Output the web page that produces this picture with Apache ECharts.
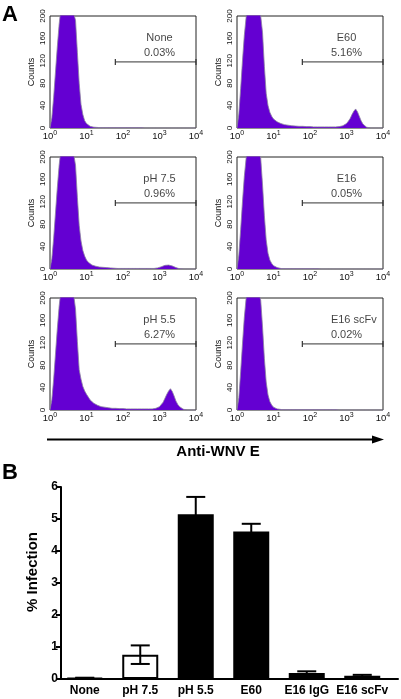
<!DOCTYPE html>
<html><head><meta charset="utf-8">
<script src="https://cdn.jsdelivr.net/npm/echarts@6/dist/echarts.min.js"></script>
<style>html,body{margin:0;padding:0;background:#fff}#c{width:401px;height:699px}</style>
</head><body><div id="c"></div>
<script>
// ---------- Panel A data: log10 fluorescence bins and counts ----------
const bins = [0,0.05,0.1,0.15,0.2,0.25,0.3,0.35,0.4,0.45,0.5,0.55,0.6,0.65,0.7,0.75,0.8,0.85,0.9,0.95,
  1,1.05,1.1,1.15,1.2,1.25,1.3,1.35,1.4,1.45,1.5,1.55,1.6,1.65,1.7,1.75,1.8,1.85,1.9,1.95,
  2,2.05,2.1,2.15,2.2,2.25,2.3,2.35,2.4,2.45,2.5,2.55,2.6,2.65,2.7,2.75,2.8,2.85,2.9,2.95,
  3,3.05,3.1,3.15,3.2,3.25,3.3,3.35,3.4,3.45,3.5,3.55,3.6,3.65,3.7,3.75,3.8,3.85,3.9,3.95,4];

const countsNone = [0,18,55,100,145,185,215,240,255,255,245,232,218,205,
  192,135,80,42,24,13,8,5,3,2,1.5,1,1,0.5,0.5,0.5,0.5,
  0.3,0.3,0.3,0.3,0.3,0.3,0.3,0.3,0.3,0.3,0.3,0.3,0.3,0.3,0.3,0.3,0.3,0.3,0.3,0.3,
  0,0,0,0,0,0,0,0,0,0,0,0,0,0,0,0,0,0,0,0,0,0,0,0,0,0,0,0,0,0];
const countsE60 = [0,25,70,120,165,198,230,250,258,252,240,225,210,200,
  170,110,62,40,28,21,16,13,11,9,8,7,6,5.5,5,4.5,4,
  4,3.5,3.5,3,3,3,3,2.5,2.5,2.5,2.5,
  2,2,2,2,2,2,2,2,2,2,2,2,2,2,
  2.5,3,4,6,8,12,17,24,30,34,29,21,13,7,3.5,1.5,0.5,
  0,0,0,0,0,0,0,0];
const countsPH75 = [0,18,55,100,145,185,215,240,255,255,245,232,218,205,
  185,128,78,50,33,23,16,12,9,7,6,5,4,3.5,3,3,2.5,
  2.5,2,2,2,1.5,1.5,
  1,1,1,1,1,1,1,1,1,1,1,1,1,1,1,1,1,1,1,1,1,
  1.5,2,3,4,5.5,6.5,7,7,6.5,5.5,4,2.5,1.5,0.5,
  0,0,0,0,0,0,0,0,0];
const countsE16 = [0,25,70,120,165,198,230,250,258,252,240,225,210,198,
  150,95,52,28,16,10,6,4,2.5,1.5,1,0.5,
  0.3,0.3,0.3,0.3,0.3,0.3,0.3,0.3,0.3,0.3,0.3,0.3,0.3,0.3,0.3,0.3,0.3,0.3,0.3,0.3,
  0,0,0,0,0,0,0,0,0,0,0,0,0,0,0,0,0,0,0,0,0,0,0,0,0,0,0,0,0,0,0,0,0,0,0];
const countsPH55 = [0,18,55,100,145,185,215,240,255,255,245,232,218,205,
  180,122,72,55,42,34,28,23,18,15,12,10,8.5,7,6,5.5,5,4.5,4,3.5,3,3,3,2.5,2.5,2.5,2.5,
  2,2,2,2,2,2,2,2,2,2,2,2,2,2,2,2,2,
  3,4,6,9,14,21,28,34,38,33,25,16,10,6,3,1.5,0.5,
  0,0,0,0,0,0];
const countsScFv = [0,22,68,118,165,200,232,252,258,250,238,224,210,196,
  148,92,50,27,15,9,5,3,2,1,1,0.5,
  0.3,0.3,0.3,0.3,0.3,0.3,0.3,0.3,0.3,0.3,0.3,0.3,0.3,0.3,0.3,0.3,0.3,0.3,0.3,0.3,
  0.3,0.3,0.3,0.3,0.3,0.3,0.3,0.3,0.3,0.3,
  0,0,0,0,0,0,0,0,0,0,0,0,0,0,0,0,0,0,0,0,0,0,0,0,0];

const panelNames = ['None','E60','pH 7.5','E16','pH 5.5','E16 scFv'];
const panelPercents = ['0.03%','5.16%','0.96%','0.05%','6.27%','0.02%'];
const panelCounts = [countsNone,countsE60,countsPH75,countsE16,countsPH55,countsScFv];
const decadeTicks = [0,1,2,3,4];
const countTicks = [0,40,80,120,160,200];
const gate = [[1.79,118],[4,118]];

// ---------- Panel B data ----------
const barCategories = ['None','pH 7.5','pH 5.5','E60','E16 IgG','E16 scFv'];
const barValues = [0.03,0.76,5.15,4.61,0.19,0.10];
const barErrors = [0.01,0.29,0.54,0.24,0.05,0.03];
const infectionTicks = [0,1,2,3,4,5,6];

const FONT = '"Liberation Sans", Arial, sans-serif';
const PURPLE = '#6400d2';

const grids = [], xAxes = [], yAxes = [], series = [];
const colLeft = [50, 237], rowTop = [16, 157, 298];
panelNames.forEach((name, i) => {
  const col = i % 2, row = Math.floor(i / 2);
  grids.push({left: colLeft[col], top: rowTop[row], width: 146, height: 112,
    show: true, borderColor: '#222', borderWidth: 1, backgroundColor: 'transparent'});
  xAxes.push({gridIndex: i, type: 'value', min: decadeTicks[0], max: decadeTicks[decadeTicks.length-1], interval: 1,
    axisLine: {show: false}, axisTick: {show: false}, splitLine: {show: false},
    axisLabel: {margin: 2, color: '#111', fontFamily: FONT, fontSize: 9.5, lineHeight: 12,
      formatter: v => '10{s|' + v + '}',
      rich: {s: {fontSize: 7, fontFamily: FONT, color: '#111', verticalAlign: 'top', lineHeight: 8}}}});
  yAxes.push({gridIndex: i, type: 'value', min: 0, max: countTicks[countTicks.length-1], interval: 40,
    axisLine: {show: false}, axisTick: {show: false}, splitLine: {show: false},
    axisLabel: {rotate: 90, margin: 3, color: '#111', fontFamily: FONT, fontSize: 8},
    name: 'Counts', nameLocation: 'middle', nameRotate: 90, nameGap: 14,
    nameTextStyle: {fontFamily: FONT, fontSize: 9, color: '#111'}});
  series.push({type: 'line', xAxisIndex: i, yAxisIndex: i, data: bins.map((b, k) => [b, panelCounts[i][k]]),
    symbol: 'none', clip: true, lineStyle: {color: '#8a80a0', width: 0.8},
    areaStyle: {color: PURPLE, opacity: 1}, z: 2});
  series.push({type: 'line', xAxisIndex: i, yAxisIndex: i, data: gate,
    symbol: 'rect', symbolSize: [1.2, 6], showSymbol: true, clip: false,
    itemStyle: {color: '#333'}, lineStyle: {color: '#333', width: 1}, z: 3});
  const nameX = name === 'E16 scFv' ? 3.2 : 3.0;
  series.push({type: 'scatter', xAxisIndex: i, yAxisIndex: i, symbolSize: 1,
    itemStyle: {color: 'transparent'}, silent: true, z: 4,
    data: [[nameX, 161, name], [3.0, 134, panelPercents[i]]],
    label: {show: true, position: 'inside', formatter: p => p.data[2],
      fontFamily: FONT, fontSize: 11, color: '#111'}});
});

// Panel B: grid 6 for bars (category positions), grid 7 for the visible axes
grids.push({left: 57, top: 487, width: 333, height: 192});
grids.push({left: 61, top: 487, width: 337, height: 192});
xAxes.push({gridIndex: 6, type: 'category', data: barCategories,
  axisLine: {show: false}, axisTick: {show: false},
  axisLabel: {margin: 6, color: '#000', fontFamily: FONT, fontWeight: 'bold', fontSize: 12, interval: 0}});
yAxes.push({gridIndex: 6, type: 'value', min: 0, max: 6, show: false});
xAxes.push({gridIndex: 7, type: 'value', min: 0, max: 1,
  axisLine: {show: true, lineStyle: {color: '#000', width: 2}}, axisTick: {show: false},
  axisLabel: {show: false}, splitLine: {show: false}});
yAxes.push({gridIndex: 7, type: 'value', min: 0, max: 6, interval: 1,
  axisLine: {show: true, lineStyle: {color: '#000', width: 2}},
  axisTick: {show: true, length: 5, lineStyle: {color: '#000', width: 2}},
  splitLine: {show: false},
  axisLabel: {margin: 3, color: '#000', fontFamily: FONT, fontWeight: 'bold', fontSize: 12},
  name: '% Infection', nameLocation: 'middle', nameRotate: 90, nameGap: 17,
  nameTextStyle: {fontFamily: FONT, fontWeight: 'bold', fontSize: 15, color: '#000', padding: [0,0,0,22]}});

series.push({type: 'bar', xAxisIndex: 6, yAxisIndex: 6, data: barValues, barWidth: 36,
  itemStyle: {color: p => p.name === 'pH 7.5' ? '#fff' : '#000', borderColor: '#000', borderWidth: 2}, z: 2});
series.push({type: 'custom', xAxisIndex: 6, yAxisIndex: 6, z: 5,
  data: barValues.map((v, i) => [i, v, barErrors[i]]),
  renderItem: (params, api) => {
    const x = api.value(0), v = api.value(1), e = api.value(2);
    const top = api.coord([x, v + e]), bot = api.coord([x, v - e]);
    const h = 9.5, st = {stroke: '#000', lineWidth: 2};
    return {type: 'group', children: [
      {type: 'line', shape: {x1: top[0], y1: top[1], x2: bot[0], y2: bot[1]}, style: st},
      {type: 'line', shape: {x1: top[0]-h, y1: top[1], x2: top[0]+h, y2: top[1]}, style: st},
      {type: 'line', shape: {x1: bot[0]-h, y1: bot[1], x2: bot[0]+h, y2: bot[1]}, style: st}
    ]};
  }});

const chart = echarts.init(document.getElementById('c'), null, {renderer: 'canvas'});
chart.setOption({
  animation: false,
  backgroundColor: '#fff',
  grid: grids, xAxis: xAxes, yAxis: yAxes, series: series,
  graphic: [
    {type: 'text', left: 2, top: 4, style: {text: 'A', font: 'bold 22px ' + FONT, fill: '#000'}},
    {type: 'text', left: 2, top: 462, style: {text: 'B', font: 'bold 22px ' + FONT, fill: '#000'}},
    {type: 'line', shape: {x1: 47, y1: 439.5, x2: 374, y2: 439.5}, style: {stroke: '#000', lineWidth: 2}},
    {type: 'polygon', shape: {points: [[372, 435.5], [384, 439.5], [372, 443.5]]}, style: {fill: '#000'}},
    {type: 'text', x: 218, y: 452, style: {text: 'Anti-WNV E', font: 'bold 15px ' + FONT, fill: '#000',
      textAlign: 'center', textVerticalAlign: 'middle'}}
  ]
});
</script></body></html>
